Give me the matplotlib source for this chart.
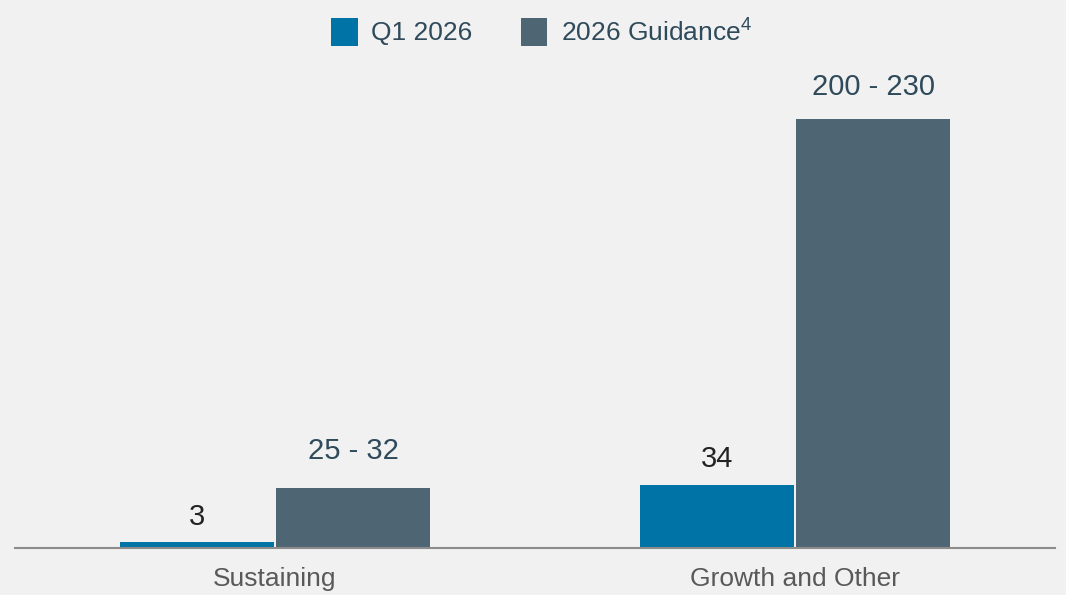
import numpy as np
import matplotlib.pyplot as plt

plt.rcParams['font.family'] = ['Liberation Sans', 'DejaVu Sans']
plt.rcParams['mathtext.fontset'] = 'custom'
plt.rcParams['mathtext.rm'] = 'Liberation Sans'

categorias = ["Sustaining", "Growth and Other"]
q1_2026 = [3, 34]
guidance_alto = [32, 230]
rotulos_q1 = ["3", "34"]
rotulos_guidance = ["25 - 32", "200 - 230"]

fundo = "#f1f1f1"
azul = "#0073a6"
cinza = "#4e6574"

fig = plt.figure(figsize=(10.66, 5.95), dpi=100, facecolor=fundo)
ax = fig.add_axes([15/1066, 47/595, 1040/1066, 548/595])
ax.set_facecolor(fundo)

x = np.arange(len(categorias))
larg = 0.296
b1 = ax.bar(x - 0.15, q1_2026, larg, color=azul, label="Q1 2026")
b2 = ax.bar(x + 0.15, guidance_alto, larg, color=cinza, label="2026 Guidance$^{4}$")

for r, txt in zip(b1, rotulos_q1):
    ax.annotate(txt, (r.get_x() + r.get_width()/2, r.get_height()),
                xytext=(0, 8), textcoords="offset points",
                ha="center", va="bottom", fontsize=21, color="#222222")
for r, txt, off in zip(b2, rotulos_guidance, [17, 13]):
    ax.annotate(txt, (r.get_x() + r.get_width()/2, r.get_height()),
                xytext=(0, off), textcoords="offset points",
                ha="center", va="bottom", fontsize=21, color="#2f4a5a")

ax.set_xlim(-0.5, 1.5)
ax.set_ylim(0, 548/1.865)
ax.set_xticks(x)
ax.set_xticklabels(categorias, fontsize=19, color="#595959")
ax.tick_params(axis="x", length=0, pad=14)
ax.set_yticks([])
for s in ["top", "right", "left"]:
    ax.spines[s].set_visible(False)
ax.spines["bottom"].set_color("#8c8c8c")
ax.spines["bottom"].set_linewidth(1.5)

leg = fig.legend(loc="center", bbox_to_anchor=(0.508, 0.947), ncol=2, frameon=False,
                 fontsize=19, handlelength=1.0, handleheight=1.25, handletextpad=0.5,
                 columnspacing=1.85)
for t in leg.get_texts():
    t.set_color("#2f4a5a")

fig.savefig("out.png", dpi=100, facecolor=fundo)
